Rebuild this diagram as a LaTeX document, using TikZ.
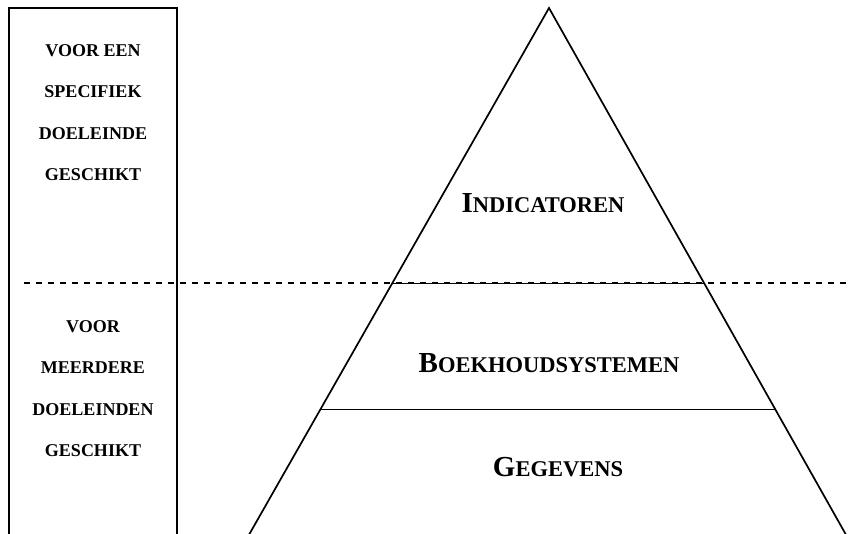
\documentclass[tikz,border=0pt]{standalone}
\usepackage{fontspec}
\setmainfont{Liberation Serif}
\usepackage{tikz}
\usetikzlibrary{calc}
\newcommand{\laag}[2]{{\fontsize{29}{29}\selectfont #1}{\fontsize{22.5}{22.5}\selectfont #2}}
\tikzstyle{lijn} = [line width=1.7pt, line join=miter]
\tikzstyle{tussenlijn} = [line width=1.3pt]
\tikzstyle{grens} = [line width=1.3pt, dash pattern=on 6pt off 6pt]
\tikzstyle{laagtekst} = [anchor=base, inner sep=0pt, font=\bfseries]
\tikzstyle{kolomtekst} = [anchor=north, inner sep=0pt, align=center, font=\fontsize{18}{41.5}\selectfont\bfseries]

\begin{document}
\begin{tikzpicture}[x=1pt, y=-1pt]
		\useasboundingbox (0,0) rectangle (848,533);
		% kolom links
		\draw[lijn] (9,545) -- (9,8) -- (177,8) -- (177,545);
		% piramide
		\coordinate (top) at (549,8);
		\coordinate (linksonder) at (250,533);
		\coordinate (rechtsonder) at (845,533);
		\draw[lijn] ($(top)!1.02!(linksonder)$) -- (top) -- ($(top)!1.02!(rechtsonder)$);
		\draw[tussenlijn] ($(top)!0.5247!(linksonder)$) -- ($(top)!0.5247!(rechtsonder)$);
		\draw[tussenlijn] ($(top)!0.7643!(linksonder)$) -- ($(top)!0.7643!(rechtsonder)$);
		% scheiding
		\coordinate (grenslinks) at (24,283);
		\coordinate (grensrechts) at (848,283);
		\draw[grens] (grenslinks) -- (grensrechts);
		% teksten
		\node[laagtekst] (indicatoren) at (543,212) {\laag{I}{NDICATOREN}};
		\node[laagtekst] (boekhouding) at (549,372) {\laag{B}{OEKHOUDSYSTEMEN}};
		\node[laagtekst] (gegevens) at (558,476) {\laag{G}{EGEVENS}};
		\node[kolomtekst] (specifiek) at (93,44) {VOOR EEN\\SPECIFIEK\\DOELEINDE\\GESCHIKT};
		\node[kolomtekst] (meerdere) at (93,320) {VOOR\\MEERDERE\\DOELEINDEN\\GESCHIKT};
	\end{tikzpicture}
\end{document}
